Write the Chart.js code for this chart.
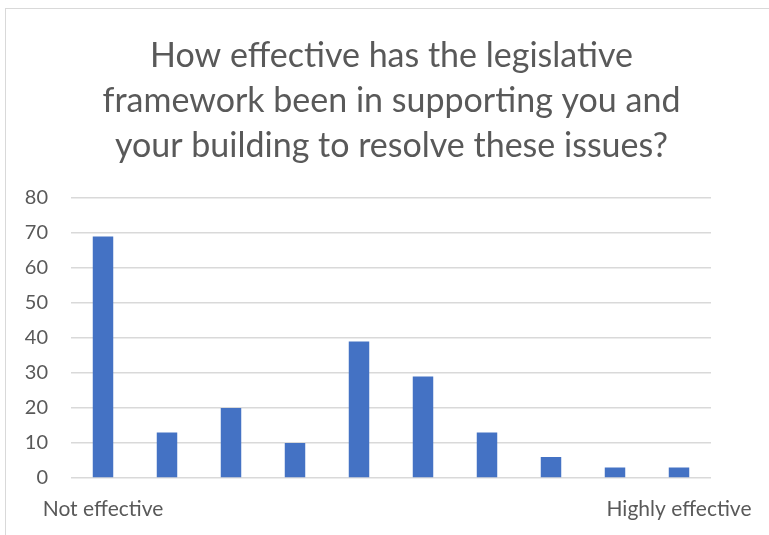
<!DOCTYPE html>
<html>
<head>
<meta charset="utf-8">
<script src="https://cdn.jsdelivr.net/npm/chart.js@4"></script>
<style>
  html, body { margin: 0; padding: 0; background: #fff; }
  #frame {
    position: absolute; left: 5px; top: 8px; width: 790px; height: 560px;
    border: 1px solid #d9d9d9; box-sizing: border-box;
  }
  #wrap { position: absolute; left: 0; top: 0; width: 769px; height: 535px; }
</style>
</head>
<body>
<div id="frame"></div>
<div id="wrap"><canvas id="myBarChart"></canvas></div>
<script>
// categories (only the two ends carry a label)
var categories = ['Not effective', '', '', '', '', '', '', '', '', 'Highly effective'];
var counts = [69, 13, 20, 10, 39, 29, 13, 6, 3, 3];
var yTicks = [0, 10, 20, 30, 40, 50, 60, 70, 80];
var titleLines = [
    'How effective has the legislative',
    'framework been in supporting you and',
    'your building to resolve these issues?'
];

var fontName = 'Lato, "Open Sans", sans-serif';

new Chart(document.getElementById('myBarChart'), {
    type: 'bar',
    data: {
        labels: categories,
        datasets: [{
            label: 'Responses',
            backgroundColor: '#4472c4',
            data: counts,
            categoryPercentage: 1.0,
            barPercentage: 0.32
        }]
    },
    options: {
        responsive: true,
        maintainAspectRatio: false,
        animation: false,
        layout: { padding: { left: 14, right: 0, top: 0, bottom: 0 } },
        plugins: {
            legend: { display: false },
            tooltip: { enabled: false },
            title: {
                display: true,
                text: titleLines,
                color: '#595959',
                font: { family: fontName, size: 34, weight: 'normal', lineHeight: 45 / 34 },
                padding: { top: 34, bottom: 29 }
            }
        },
        scales: {
            x: {
                grid: { display: false },
                border: { display: false },
                ticks: {
                    color: '#595959',
                    font: { family: fontName, size: 21 },
                    maxRotation: 0,
                    autoSkip: false,
                    padding: 11
                },
                afterFit: function (scale) { scale.height = 57; }
            },
            y: {
                min: 0,
                max: 80,
                afterBuildTicks: function (scale) {
                    scale.ticks = yTicks.map(function (v) { return { value: v }; });
                },
                grid: { color: '#d9d9d9', lineWidth: 1.5, drawTicks: false },
                border: { display: false },
                ticks: {
                    color: '#595959',
                    font: { family: fontName, size: 20 },
                    padding: 23
                },
                afterFit: function (scale) { scale.width = 57; }
            },
            // empty strip on the right of the plot
            spacer: {
                type: 'linear',
                position: 'right',
                display: true,
                grid: { display: false },
                border: { display: false },
                ticks: { display: false },
                afterFit: function (scale) { scale.width = 58; }
            }
        }
    }
});
</script>
</body>
</html>
